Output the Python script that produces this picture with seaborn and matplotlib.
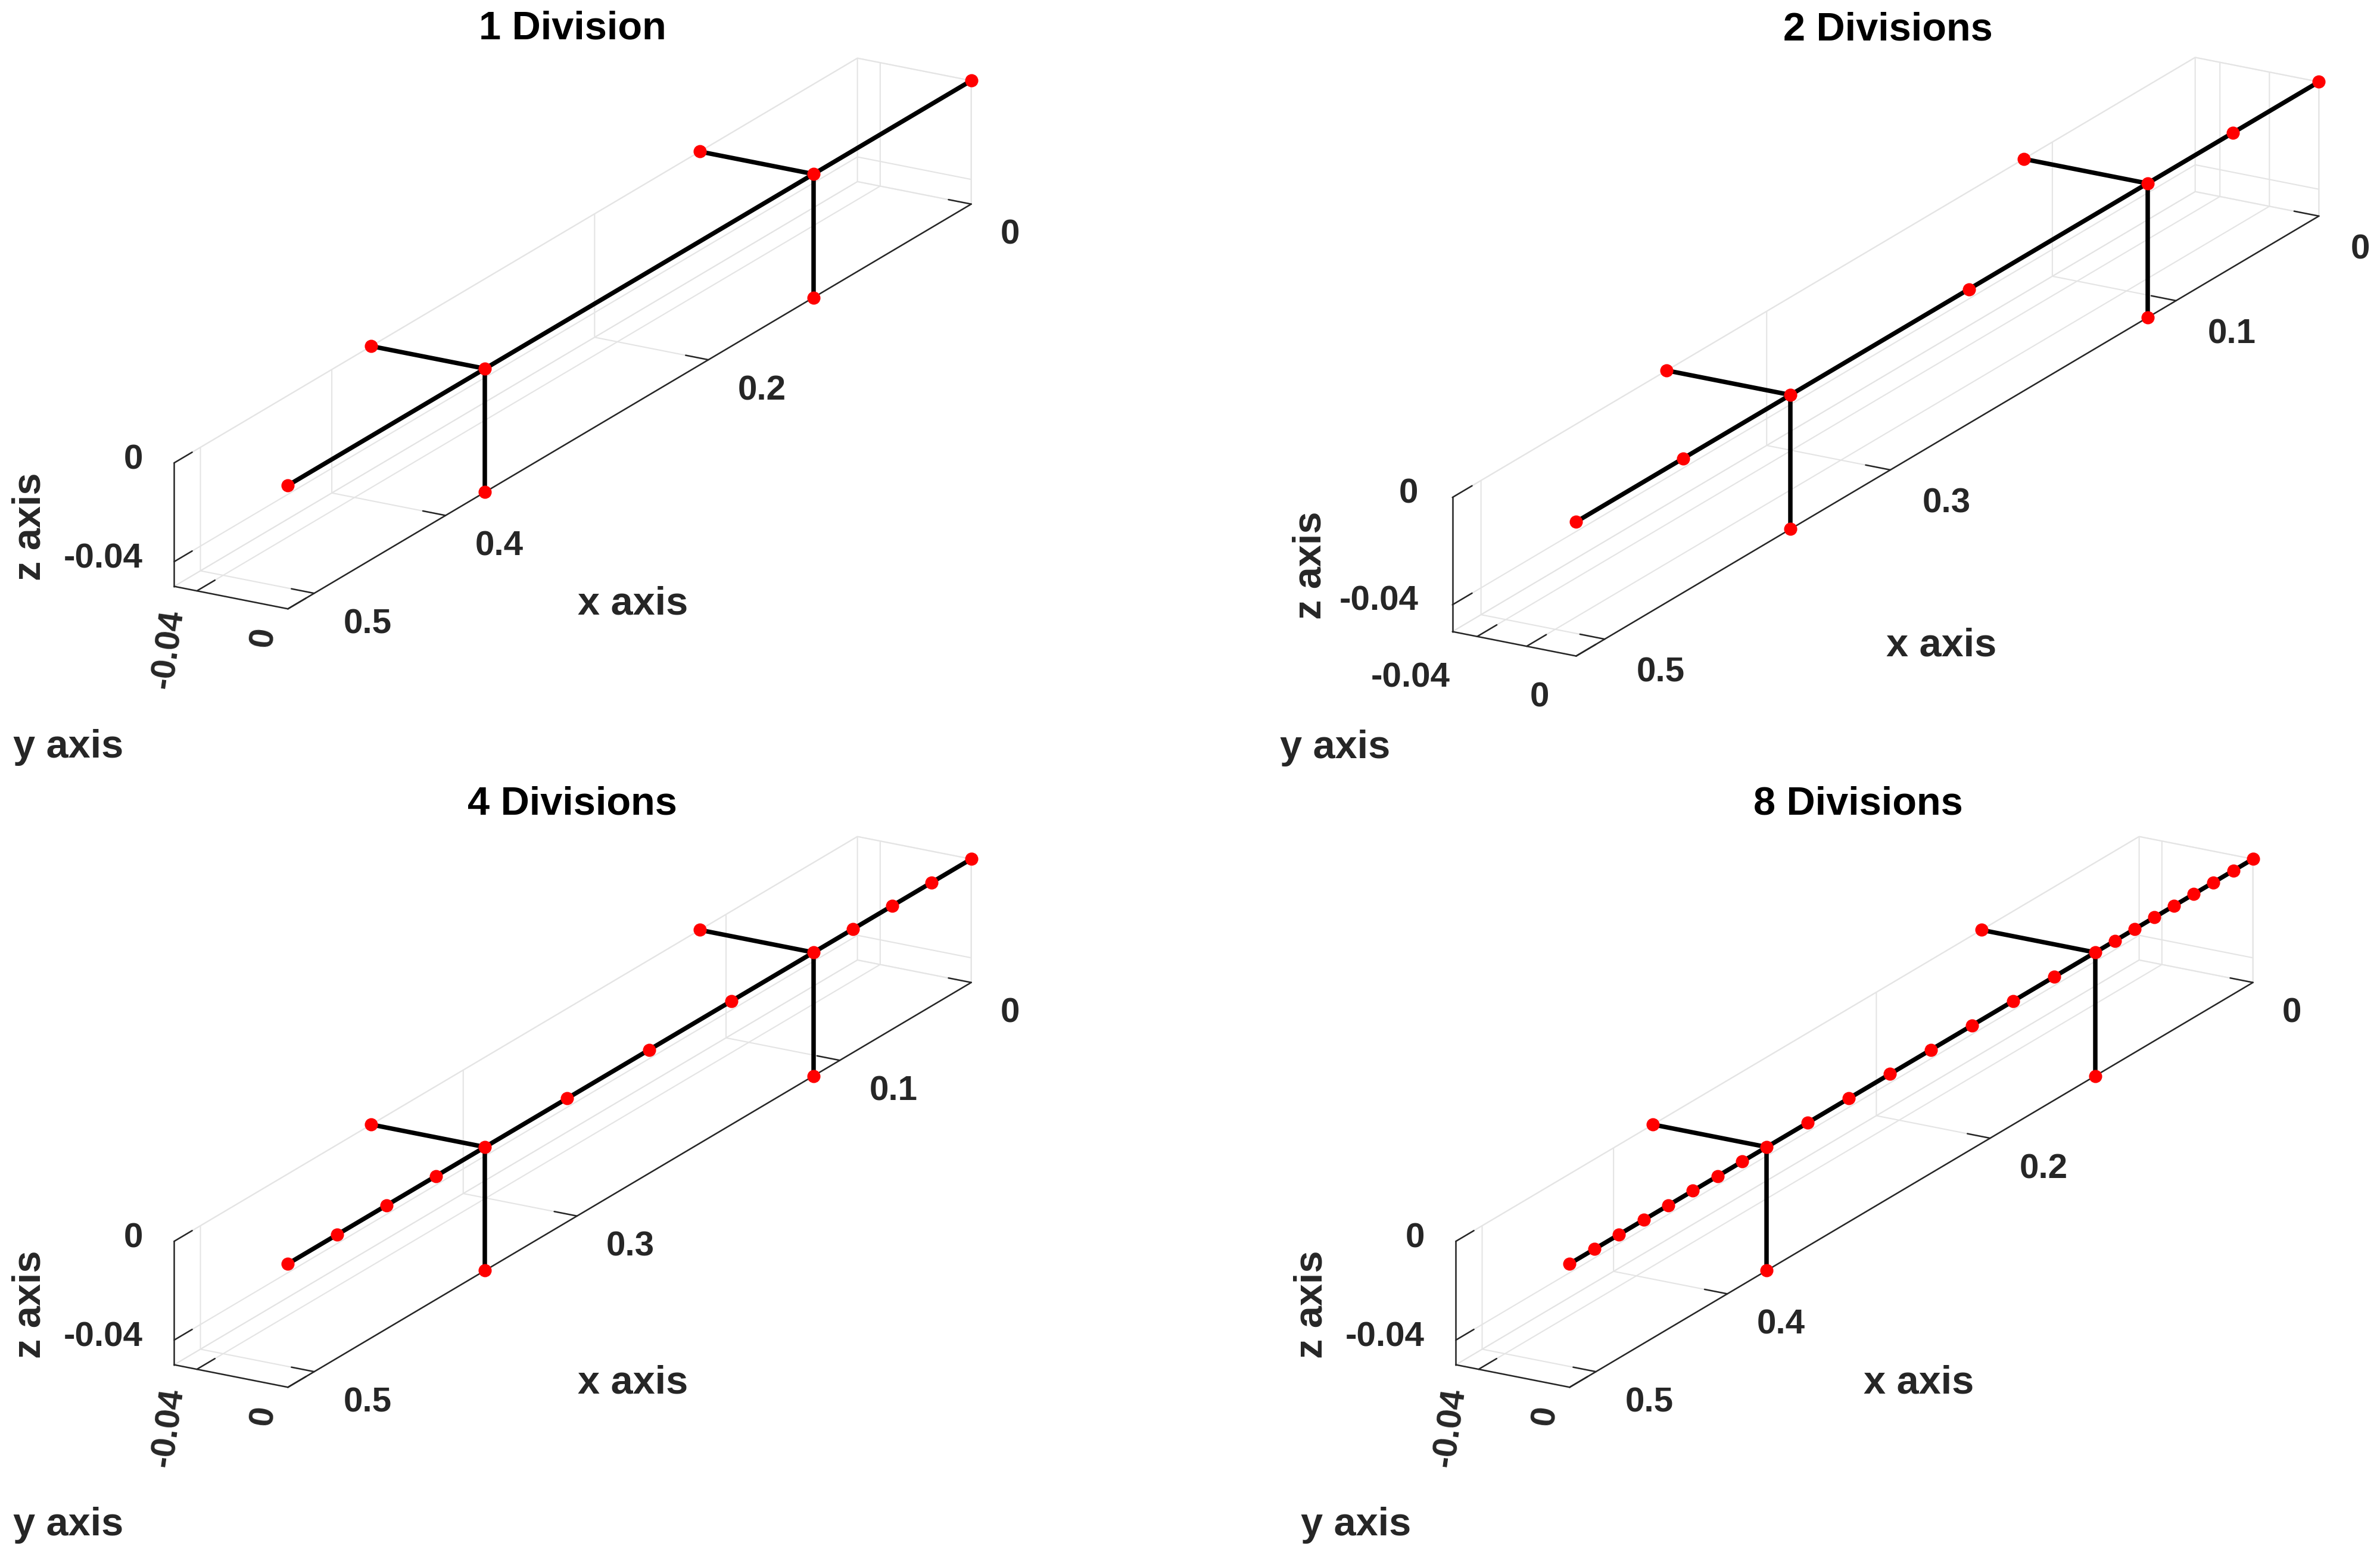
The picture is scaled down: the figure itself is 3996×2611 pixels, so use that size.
import numpy as np
import matplotlib
matplotlib.use("Agg")
import matplotlib.pyplot as plt
import seaborn as sns

# beam nodes along x (y = 0, z = 0) for each mesh refinement
beam_x_1 = [0.0, 0.12, 0.37, 0.52]
beam_x_2 = [0.0, 0.06, 0.12, 0.245, 0.37, 0.445, 0.52]
beam_x_4 = [0.0, 0.03, 0.06, 0.09, 0.12, 0.1825, 0.245, 0.3075, 0.37,
            0.4075, 0.445, 0.4825, 0.52]
beam_x_8 = [0.0, 0.015, 0.03, 0.045, 0.06, 0.075, 0.09, 0.105, 0.12,
            0.15125, 0.1825, 0.21375, 0.245, 0.27625, 0.3075, 0.33875, 0.37,
            0.38875, 0.4075, 0.42625, 0.445, 0.46375, 0.4825, 0.50125, 0.52]
beams = [beam_x_1, beam_x_2, beam_x_4, beam_x_8]

# the two T branches: one arm along -y, one arm down along -z
branch_x = [0.12, 0.37]
branch_y_end = -0.05
branch_z_end = -0.05

titles = ["1 Division", "2 Divisions", "4 Divisions", "8 Divisions"]
xtick_sets = [[0, 0.2, 0.4, 0.5], [0, 0.1, 0.3, 0.5],
              [0, 0.1, 0.3, 0.5], [0, 0.2, 0.4, 0.5]]
ytick_sets = [[-0.04, 0], [-0.04, -0.02, 0], [-0.04, 0], [-0.04, 0]]
ytick_text = [["-0.04", "0"], ["-0.04", "", "0"], ["-0.04", "0"], ["-0.04", "0"]]
zticks = [-0.04, 0]
x_lim = (0, 0.52)
y_lim = (-0.05, 0)
z_lim = (-0.05, 0)

sns.set_theme(style="white")
plt.rcParams["font.family"] = ["Liberation Sans", "DejaVu Sans"]
plt.rcParams["font.weight"] = "bold"
plt.rcParams["grid.color"] = "#e4e4e4"
plt.rcParams["grid.linewidth"] = 0.5

FW, FH = 3996, 2611
fig = plt.figure(figsize=(FW / 300, FH / 300), dpi=300)
fig.patch.set_facecolor("white")

# layout in pixels: box centre, size factor, title, axis label spots
W = 1322
centres = [(961.5, 560), (3166, 599), (961.5, 1867), (3113.5, 1867)]
scales = [1.0, 1.087, 1.0, 1.0]
title_pos = [(961, 49), (3170, 50), (961, 1350), (3120, 1350)]
xlab_pos = [(1063, 1015), (3260, 1084), (1063, 2323), (3222, 2323)]
ylab_pos = [(115, 1255), (2242, 1256), (115, 2561), (2277, 2561)]
zlab_pos = [(51, 884), (2200, 949), (51, 2190), (2203, 2190)]
ylab_rot = [82, 0, 82, 82]

dark = "#262626"
L = x_lim[1]


def put(ax, M, x, y, z, s, **kw):
    # place a label at a 3D point through the axes projection
    v = M @ np.array([x, y, z, 1.0])
    ax.text2D(v[0] / v[3], v[1] / v[3], s, transform=ax.transData,
              fontsize=14, color=dark, **kw)


for i in range(4):
    cx, cy = centres[i]
    left = cx - 0.5135 * W
    bottom = FH - cy - 0.5135 * W
    ax = fig.add_axes([left / FW, bottom / FH, W / FW, W / FH],
                      projection="3d", computed_zorder=False)
    ax.set_facecolor((1, 1, 1, 0))
    ax.set_proj_type("ortho")
    ax.view_init(elev=20, azim=30)
    ax.set_xlim(*x_lim)
    ax.set_ylim(*y_lim)
    ax.set_zlim(*z_lim)
    ax.set_box_aspect((x_lim[1] - x_lim[0], y_lim[1] - y_lim[0],
                       z_lim[1] - z_lim[0]), zoom=1.7004 * scales[i])

    for axis, out in ((ax.xaxis, 2.5), (ax.yaxis, 0.33), (ax.zaxis, 0.33)):
        axis.pane.fill = False
        axis.pane.set_edgecolor("#dadada")
        axis.pane.set_linewidth(0.5)
        axis.line.set_color(dark)
        axis.line.set_linewidth(0.6)
        axis._axinfo["tick"]["inward_factor"] = 0.0
        axis._axinfo["tick"]["outward_factor"] = out
        axis._axinfo["tick"]["linewidth"] = {True: 0.6, False: 0.4}
        axis._axinfo["tick"]["color"] = dark
    ax.grid(True)

    # ticks and grid from the axes; labels placed like the MATLAB output
    ax.set_xticks(xtick_sets[i], [""] * len(xtick_sets[i]))
    ax.set_yticks(ytick_sets[i], [""] * len(ytick_sets[i]))
    ax.set_zticks(zticks, [""] * len(zticks))

    bx = beams[i]
    zeros = np.zeros(len(bx))
    ax.plot(bx, zeros, zeros, color="black", lw=1.8, zorder=2, clip_on=False)
    for xb in branch_x:
        ax.plot([xb, xb], [0, branch_y_end], [0, 0], color="black", lw=1.8,
                zorder=2, clip_on=False)
        ax.plot([xb, xb], [0, 0], [0, branch_z_end], color="black", lw=1.8,
                zorder=2, clip_on=False)
    mk = dict(ls="none", marker="o", ms=4.3, mfc="red", mec="red", zorder=3,
              clip_on=False)
    ax.plot(bx, zeros, zeros, **mk)
    ax.plot(branch_x, [branch_y_end] * 2, [0, 0], **mk)
    ax.plot(branch_x, [0, 0], [branch_z_end] * 2, **mk)

    M = ax.get_proj()
    for t in xtick_sets[i]:
        put(ax, M, t, 0.0129, -0.0602, f"{t:g}", ha="left", va="center")
    for t in zticks:
        put(ax, M, L, -0.0638, t - 0.0013, f"{t:g}", ha="right", va="center")
    for t, s in zip(ytick_sets[i], ytick_text[i]):
        if not s:
            continue
        if ylab_rot[i]:
            put(ax, M, L + 0.0175, t, -0.0521, s, ha="right", va="center",
                rotation=ylab_rot[i], rotation_mode="anchor")
        else:
            put(ax, M, L + 0.0188, t, -0.0595, s, ha="right", va="center")

    tx, ty = title_pos[i]
    # Axes3D.set_title scales y by 0.92, so undo that
    ax.set_title(titles[i], x=(tx - left) / W, y=(FH - ty - bottom) / W / 0.92,
                 pad=0, va="center", fontsize=16, fontweight="bold",
                 color="black")

    fig.text(xlab_pos[i][0] / FW, 1 - xlab_pos[i][1] / FH, "x axis",
             ha="center", va="center", fontsize=16, color=dark)
    fig.text(ylab_pos[i][0] / FW, 1 - ylab_pos[i][1] / FH, "y axis",
             ha="center", va="center", fontsize=16, color=dark)
    fig.text(zlab_pos[i][0] / FW, 1 - zlab_pos[i][1] / FH, "z axis",
             ha="center", va="center", fontsize=16, color=dark, rotation=90)

fig.savefig("out.png", dpi=300, facecolor="white")
